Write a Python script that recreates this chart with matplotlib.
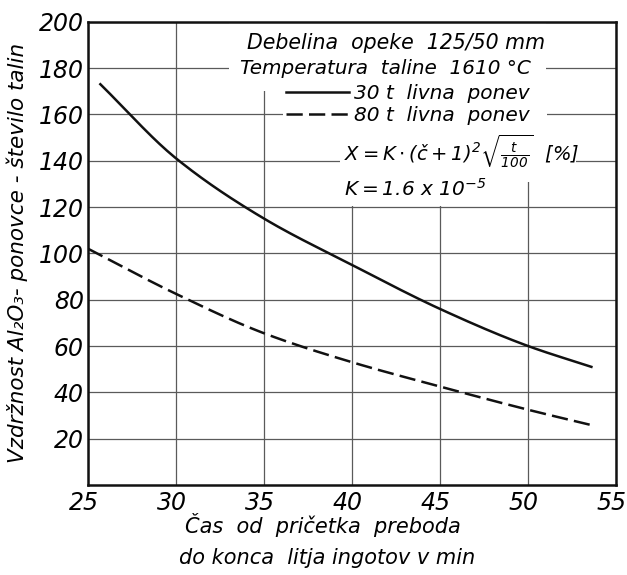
import numpy as np
import matplotlib
matplotlib.use("Agg")
from matplotlib import pyplot as plt
from matplotlib.patches import Rectangle
from matplotlib.transforms import ScaledTranslation

# curve values read along the time axis (min) -> number of heats
t_30 = [25.7, 30, 35, 40, 45, 50, 53.6]
n_30 = [173, 141, 115, 95, 76, 60, 51]
t_80 = [25, 30, 35, 40, 45, 50, 53.8]
n_80 = [102, 82.5, 65.5, 53, 42.5, 32.5, 25.5]

x_ticks = [25, 30, 35, 40, 45, 50, 55]
y_ticks = [20, 40, 60, 80, 100, 120, 140, 160, 180, 200]
labels = ["30 t  livna  ponev", "80 t  livna  ponev"]

plt.rcParams['font.family'] = ['DejaVu Sans']
plt.rcParams['font.style'] = 'italic'
plt.rcParams['mathtext.fontset'] = 'dejavusans'
TICK_FONT = ['Liberation Sans Narrow', 'DejaVu Sans']


def smooth(x, y, n=200):
    # monotone cubic through the read points
    x = np.asarray(x, float)
    y = np.asarray(y, float)
    h = np.diff(x)
    d = np.diff(y) / h
    m = np.zeros_like(y)
    m[0], m[-1] = d[0], d[-1]
    for i in range(1, len(x) - 1):
        if d[i - 1] * d[i] > 0:
            w1 = 2 * h[i] + h[i - 1]
            w2 = h[i] + 2 * h[i - 1]
            m[i] = (w1 + w2) / (w1 / d[i - 1] + w2 / d[i])
    xs = np.linspace(x[0], x[-1], n)
    k = np.clip(np.searchsorted(x, xs) - 1, 0, len(h) - 1)
    s = (xs - x[k]) / h[k]
    h00 = 2 * s**3 - 3 * s**2 + 1
    h10 = s**3 - 2 * s**2 + s
    h01 = -2 * s**3 + 3 * s**2
    h11 = s**3 - s**2
    ys = h00 * y[k] + h10 * h[k] * m[k] + h01 * y[k + 1] + h11 * h[k] * m[k + 1]
    return xs, ys


fig = plt.figure(figsize=(6.27, 5.75), dpi=100)
ax = fig.add_axes([0.1404, 0.1565, 0.8421, 0.8058])

ax.set_xlim(25, 55)
ax.set_ylim(0, 200)
ax.set_xticks(x_ticks)
ax.set_yticks(y_ticks)
ax.set_axisbelow(True)
ax.grid(True, color='#5a5a5a', lw=0.9)
ax.tick_params(length=0, pad=4)
ax.tick_params(axis='y', pad=3)
shift = ScaledTranslation(-3 / 72, 0, fig.dpi_scale_trans)
for lab in ax.get_xticklabels() + ax.get_yticklabels():
    lab.set_fontstyle('italic')
    lab.set_fontfamily(TICK_FONT)
    lab.set_fontsize(17)
for lab in ax.get_xticklabels():
    lab.set_transform(lab.get_transform() + shift)
for sp in ax.spines.values():
    sp.set_linewidth(1.8)
    sp.set_color('#111111')

# white areas so the grid stays clear around the notes
for (x0, x1, y0, y1) in [(33, 51, 175, 201), (34.7, 51.1, 170, 175),
                         (36.1, 51.1, 154, 170), (39.3, 52.7, 131, 154),
                         (39.3, 49.8, 120.3, 131)]:
    ax.add_patch(Rectangle((x0, y0), x1 - x0, y1 - y0, facecolor='white',
                           edgecolor='none', zorder=1))

xs, ys = smooth(t_30, n_30)
ax.plot(xs, ys, color='#111111', lw=1.8, label=labels[0], zorder=2)
xs, ys = smooth(t_80, n_80)
ax.plot(xs, ys, color='#111111', lw=1.8, dashes=(6.5, 2.5), label=labels[1], zorder=2)

leg = ax.legend(loc='upper left', bbox_to_anchor=(0.36, 0.882), frameon=False,
                fontsize=14.5, handlelength=3.1, handletextpad=0.25,
                labelspacing=0.12, borderaxespad=0)
for txt in leg.get_texts():
    txt.set_fontstyle('italic')

ax.text(0.583, 0.955, "Debelina  opeke  125/50 mm", transform=ax.transAxes,
        fontsize=14.8, ha='center', va='center', zorder=3)
ax.text(0.563, 0.898, "Temperatura  taline  1610 °C", transform=ax.transAxes,
        fontsize=14.4, ha='center', va='center', zorder=3)
ax.text(0.485, 0.72, r"$X = K\cdot(č+1)^2\sqrt{\frac{t}{100}}\ \ [\%]$",
        transform=ax.transAxes, fontsize=14, ha='left', va='center', zorder=3)
ax.text(0.485, 0.64, r"$K = 1.6\ x\ 10^{-5}$", transform=ax.transAxes,
        fontsize=14.5, ha='left', va='center', zorder=3)

ax.set_ylabel("Vzdržnost Al₂O₃- ponovce - število talin", fontsize=15.5,
              fontstyle='italic', labelpad=8)
fig.text(0.515, 0.087, "Čas  od  pričetka  preboda", fontsize=15, ha='center',
         va='center', style='italic')
fig.text(0.522, 0.03, "do konca  litja ingotov v min", fontsize=15, ha='center',
         va='center', style='italic')

fig.savefig("out.png", dpi=100)
